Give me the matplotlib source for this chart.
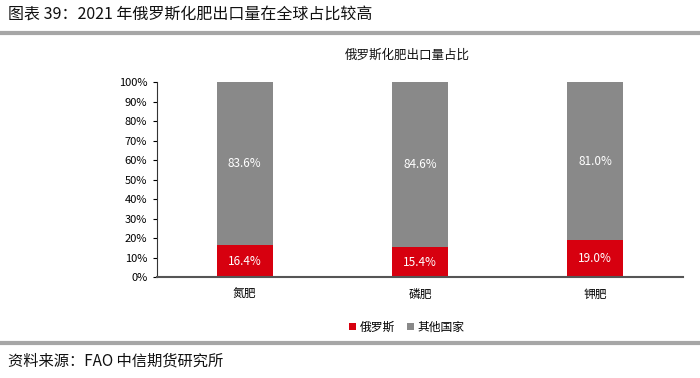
import matplotlib
matplotlib.use("Agg")
import matplotlib.pyplot as plt
from matplotlib.lines import Line2D

plt.rcParams['font.family'] = ['Noto Sans CJK SC', 'DejaVu Sans']

categories = ["氮肥", "磷肥", "钾肥"]
russia = [16.4, 15.4, 19.0]
others = [83.6, 84.6, 81.0]
series_names = ["俄罗斯", "其他国家"]

RED = "#d7000f"
GRAY = "#898989"

fig = plt.figure(figsize=(7.0, 3.78), dpi=100)

# header / footer
fig.text(0.012, 0.962, "图表 39：2021 年俄罗斯化肥出口量在全球占比较高",
         fontsize=11.5, va="center", ha="left", color="#111111")
fig.add_artist(Line2D([0.0, 1.0], [0.913, 0.913], color="#a6a6a6", lw=3))
fig.add_artist(Line2D([0.0, 1.0], [0.093, 0.093], color="#a6a6a6", lw=3))
fig.text(0.012, 0.045, "资料来源：FAO 中信期货研究所",
         fontsize=11, va="center", ha="left", color="#111111")

# chart title
fig.text(407 / 700, 1 - 55 / 378, "俄罗斯化肥出口量占比", fontsize=9,
         ha="center", va="center", color="#111111")

ax = fig.add_axes([157 / 700, 0.267, 526 / 700, 0.516])
x = range(len(categories))
w = 0.318
ax.bar(x, russia, width=w, color=RED, label=series_names[0], zorder=2)
ax.bar(x, others, width=w, bottom=russia, color=GRAY, label=series_names[1], zorder=2)

for i in x:
    ax.text(i, russia[i] / 2, f"{russia[i]:.1f}%", ha="center", va="center",
            color="white", fontsize=8.5)
    ax.text(i, russia[i] + others[i] / 2, f"{others[i]:.1f}%", ha="center", va="center",
            color="white", fontsize=8.5)

ax.set_xlim(-0.5, 2.5)
ax.set_ylim(0, 100)
ax.set_yticks(range(0, 101, 10))
ax.set_yticklabels([f"{v}%" for v in range(0, 101, 10)], fontsize=8)
ax.set_xticks(list(x))
ax.set_xticklabels(categories, fontsize=8.5)
ax.tick_params(axis="x", length=0, pad=8)
ax.tick_params(axis="y", length=3, width=0.8, pad=4)
for s in ["top", "right"]:
    ax.spines[s].set_visible(False)
ax.spines["left"].set_color("#333333")
ax.spines["bottom"].set_color("#555555")
ax.spines["bottom"].set_linewidth(1.5)

leg = ax.legend(loc="upper center", bbox_to_anchor=((407 - 157) / 526, -0.17), ncol=2,
                frameon=False, fontsize=8.5, handlelength=0.6, handleheight=0.6,
                handletextpad=0.3, columnspacing=1.0)

fig.savefig("out.png", dpi=100)
